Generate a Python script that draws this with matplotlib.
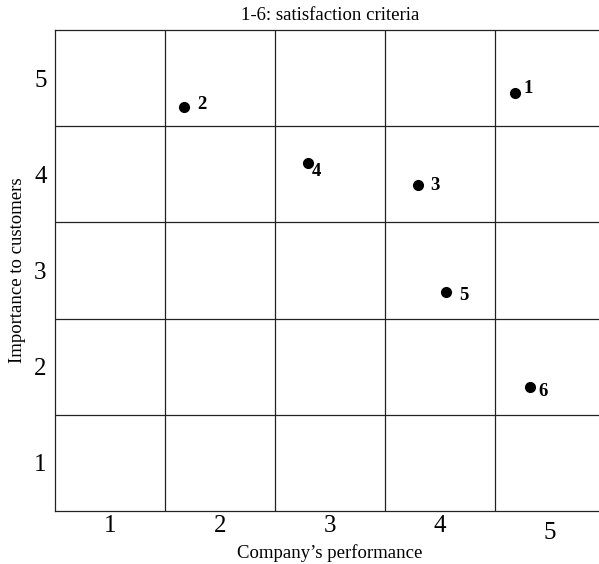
import numpy as np
import matplotlib.pyplot as plt
import matplotlib.transforms as mtransforms

plt.rcParams['font.family'] = ['Liberation Serif', 'DejaVu Serif']

# satisfaction criteria: company's performance vs importance to customers
labels      = ['1', '2', '3', '4', '5', '6']
performance = [4.68, 1.67, 3.80, 2.80, 4.05, 4.82]
importance  = [4.84, 4.70, 3.89, 4.12, 2.78, 1.79]
# label offsets (points) relative to each dot
label_dx    = [6.5, 9.5, 8.5, 3, 9.5, 6]
label_dy    = [3.5, 2, -0.5, -6, -3, -3]
ticks       = [1, 2, 3, 4, 5]

fig = plt.figure(figsize=(5.99, 5.64), dpi=100)
ax  = fig.add_axes([55/599, 1 - 511/564, 550/599, 481/564])

ax.plot(performance, importance, 'o', color='black', markersize=7, zorder=3)
for lab, x, y, dx, dy in zip(labels, performance, importance, label_dx, label_dy):
  ax.annotate(lab, (x, y), xytext=(dx, dy), textcoords='offset points',
              fontsize=13.5, fontweight='bold', va='center', ha='left')

ax.set_xlim(0.5, 5.5)
ax.set_ylim(0.5, 5.5)
ax.set_xticks(ticks)
ax.set_yticks(ticks)
ax.set_xticks(np.arange(1.5, 5, 1), minor=True)
ax.set_yticks(np.arange(1.5, 5, 1), minor=True)
ax.tick_params(which='both', length=0)
ax.tick_params(axis='x', pad=3, labelsize=18)
ax.tick_params(axis='y', pad=6, labelsize=18)
ax.grid(which='minor', color='#222222', linewidth=0.9)
ax.spines['right'].set_visible(False)
for s in ['top', 'left', 'bottom']:
  ax.spines[s].set_color('#222222')
  ax.spines[s].set_linewidth(0.9)

# last x tick label sits a bit lower
lbl = ax.get_xticklabels()[4]
lbl.set_transform(lbl.get_transform() + mtransforms.ScaledTranslation(0, -7/100, fig.dpi_scale_trans))

ax.set_xlabel("Company\u2019s performance", fontsize=13.5, labelpad=0)
ax.set_ylabel('Importance to customers', fontsize=13.5, labelpad=6)
fig.text(330/599, 1 - 16/564, '1-6: satisfaction criteria', fontsize=13.5, ha='center', va='center')

fig.savefig('out.png', dpi=100)
